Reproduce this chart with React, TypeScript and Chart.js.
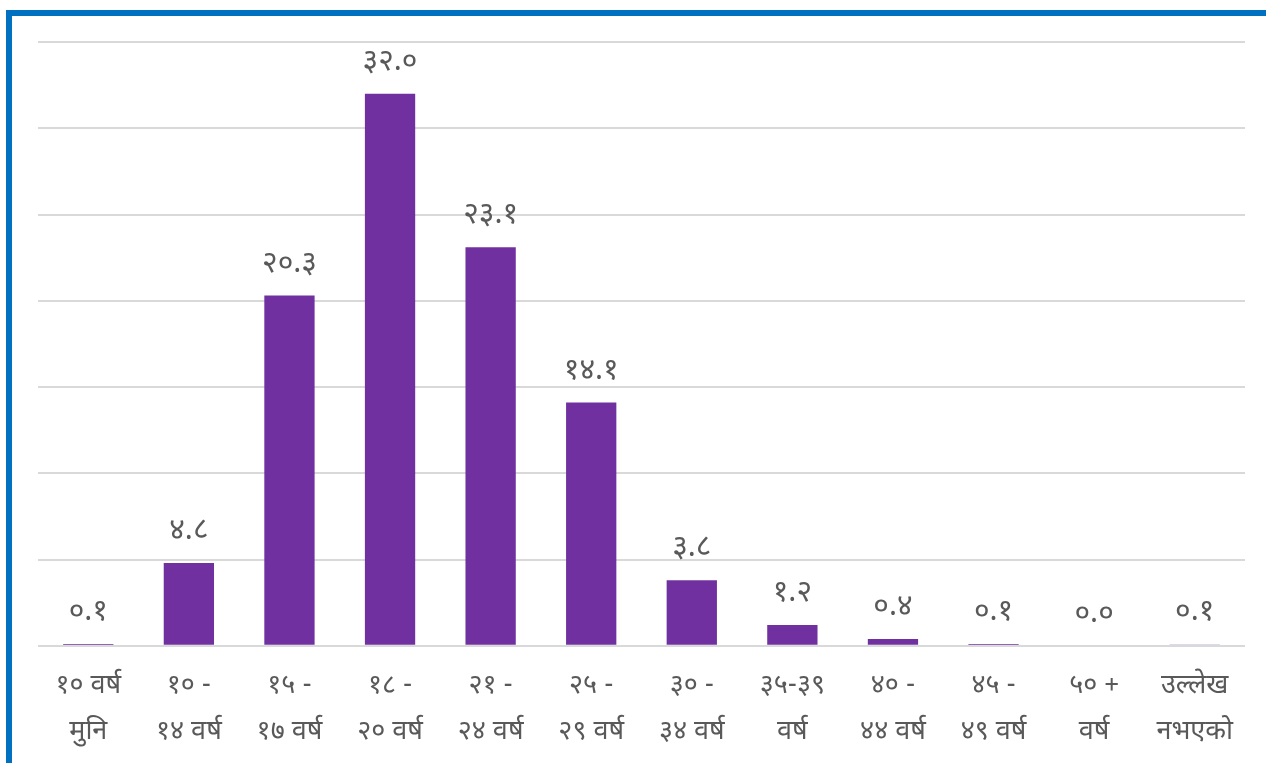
import React, { useEffect, useRef } from "react";
import { Chart, registerables } from "chart.js";

Chart.register(...registerables);

const categories: string[][] = [
  ["१० वर्ष", "मुनि"],
  ["१० -", "१४ वर्ष"],
  ["१५ -", "१७ वर्ष"],
  ["१८ -", "२० वर्ष"],
  ["२१ -", "२४ वर्ष"],
  ["२५ -", "२९ वर्ष"],
  ["३० -", "३४ वर्ष"],
  ["३५-३९", "वर्ष"],
  ["४० -", "४४ वर्ष"],
  ["४५ -", "४९ वर्ष"],
  ["५० +", "वर्ष"],
  ["उल्लेख", "नभएको"],
];

const values: number[] = [0.1, 4.8, 20.3, 32.0, 23.1, 14.1, 3.8, 1.2, 0.4, 0.1, 0.0, 0.1];

const barColors: string[] = [
  "#7030A0", "#7030A0", "#7030A0", "#7030A0", "#7030A0", "#7030A0",
  "#7030A0", "#7030A0", "#7030A0", "#7030A0", "#7030A0", "#D9C7E8",
];

const yMax = 35;
const yStep = 5;

const devDigits = ["०", "१", "२", "३", "४", "५", "६", "७", "८", "९"];
const toDev = (s: string) => s.replace(/[0-9]/g, (d) => devDigits[Number(d)]);

const FONT = "'Noto Sans Devanagari', 'Lohit Devanagari', 'Mangal', 'Noto Sans', sans-serif";

const labelPlugin = {
  id: "valueLabels",
  afterDatasetsDraw(chart: any) {
    const { ctx } = chart;
    const meta = chart.getDatasetMeta(0);
    ctx.save();
    ctx.font = `30px ${FONT}`;
    ctx.fillStyle = "#595959";
    ctx.textAlign = "center";
    ctx.textBaseline = "alphabetic";
    meta.data.forEach((bar: any, i: number) => {
      const txt = toDev(values[i].toFixed(1));
      ctx.fillText(txt, bar.x, bar.y - 24);
    });
    ctx.restore();
  },
};

export default function App() {
  const ref = useRef<HTMLCanvasElement | null>(null);
  useEffect(() => {
    if (!ref.current) return;
    const chart = new Chart(ref.current, {
      type: "bar",
      data: {
        labels: categories,
        datasets: [
          {
            data: values,
            backgroundColor: barColors,
            barPercentage: 0.5,
            categoryPercentage: 1.0,
          },
        ],
      },
      options: {
        animation: false,
        responsive: false,
        maintainAspectRatio: false,
        layout: { padding: { left: 38, right: 21, top: 42, bottom: 0 } },
        plugins: { legend: { display: false }, tooltip: { enabled: false } },
        scales: {
          x: {
            grid: { display: false },
            border: { display: false },
            ticks: {
              color: "#595959",
              font: { size: 27, family: FONT, lineHeight: 1.67 },
              padding: 12,
              maxRotation: 0,
              autoSkip: false,
            },
          },
          y: {
            min: 0,
            max: yMax,
            ticks: { display: false, stepSize: yStep },
            grid: { color: "#D9D9D9", lineWidth: 2, drawTicks: false },
            border: { display: false },
          },
        },
      },
      plugins: [labelPlugin],
    });
    return () => chart.destroy();
  }, []);
  return (
    <div style={{ position: "fixed", left: 0, top: 0, width: 1266, height: 763, background: "#fff", overflow: "hidden" }}>
      <div
        style={{
          position: "absolute",
          left: 6,
          top: 10,
          width: 1300,
          height: 800,
          borderTop: "6px solid #0070C0",
          borderLeft: "6px solid #0070C0",
          boxSizing: "border-box",
        }}
      />
      <canvas ref={ref} width={1266} height={768} style={{ position: "absolute", left: 0, top: 0 }} />
    </div>
  );
}
